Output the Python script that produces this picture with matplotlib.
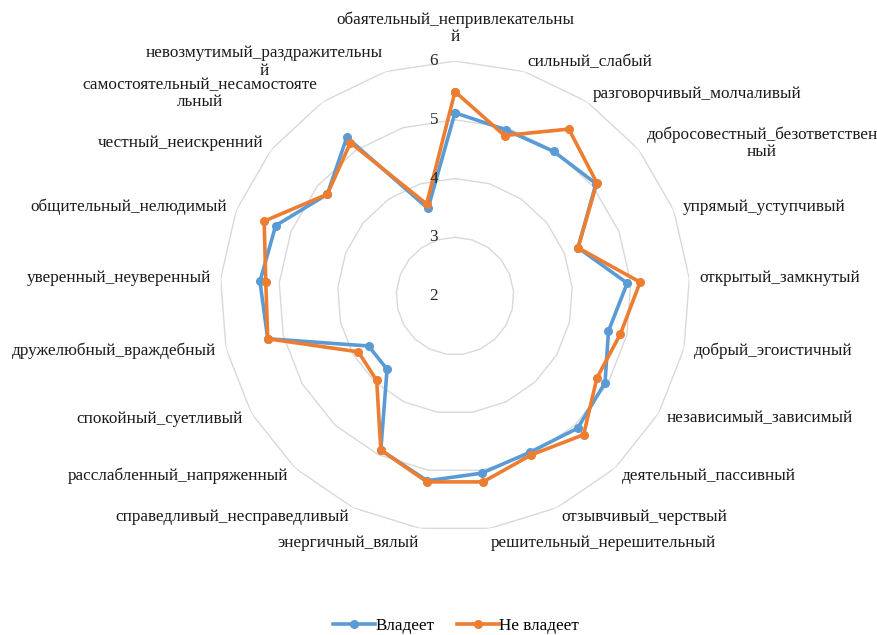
import numpy as np
import matplotlib
matplotlib.use("Agg")
import matplotlib.pyplot as plt
from matplotlib.transforms import offset_copy

categories = [
    "обаятельный_непривлекательны\nй",
    "сильный_слабый",
    "разговорчивый_молчаливый",
    "добросовестный_безответствен\nный",
    "упрямый_уступчивый",
    "открытый_замкнутый",
    "добрый_эгоистичный",
    "независимый_зависимый",
    "деятельный_пассивный",
    "отзывчивый_черствый",
    "решительный_нерешительный",
    "энергичный_вялый",
    "справедливый_несправедливый",
    "расслабленный_напряженный",
    "спокойный_суетливый",
    "дружелюбный_враждебный",
    "уверенный_неуверенный",
    "общительный_нелюдимый",
    "честный_неискренний",
    "самостоятельный_несамостояте\nльный",
    "невозмутимый_раздражительны\nй",
]
vladeet = [5.12, 4.96, 4.98, 5.07, 4.25, 4.94, 4.68, 4.95, 5.07, 4.95, 5.05,
           5.18, 4.91, 3.70, 3.70, 5.27, 5.33, 5.28, 4.78, 5.27, 3.56]
ne_vladeet = [5.48, 4.86, 5.44, 5.09, 4.25, 5.16, 4.89, 4.79, 5.22, 5.00, 5.20,
              5.20, 4.91, 3.96, 3.90, 5.27, 5.23, 5.49, 4.78, 5.16, 3.64]
series_names = ["Владеет", "Не владеет"]
ticks = [2, 3, 4, 5, 6]

BLUE = "#5B9BD5"
ORANGE = "#ED7D31"
FONT = "Liberation Serif"
FS = 12.3

fig = plt.figure(figsize=(8.77, 6.35), dpi=100)
ax = fig.add_axes([0.2508, 0.1638, 0.536, 0.740], projection="polar")
ax.set_theta_offset(np.pi / 2)
ax.set_theta_direction(-1)
ax.set_ylim(2, 6)
ax.grid(False)
ax.spines["polar"].set_visible(False)
ax.set_xticks([])
ax.set_yticks([])
ax.patch.set_alpha(0)

n = len(categories)
theta = np.arange(n) * 2 * np.pi / n
theta_c = np.append(theta, theta[0])

for t in ticks[1:]:
    ax.plot(theta_c, [t] * (n + 1), color="#D9D9D9", lw=1.0, zorder=1)

for vals, col, name in [(vladeet, BLUE, series_names[0]), (ne_vladeet, ORANGE, series_names[1])]:
    v = np.append(vals, vals[0])
    ax.plot(theta_c, v, color=col, lw=2.6, marker="o", markersize=5.5,
            label=name, zorder=3, solid_joinstyle="round")

# radial tick labels
tr = offset_copy(ax.transData, fig=fig, x=-17, y=0, units="dots")
for t in ticks:
    ax.text(0, t, str(t), transform=tr, ha="right", va="center",
            fontsize=FS, family=FONT, color="#262626", zorder=4)

# category labels
for th, lab in zip(theta, categories):
    ang = np.pi / 2 - th
    c, s = np.cos(ang), np.sin(ang)
    rlab = 6.17
    if abs(c) < 0.02:
        ha = "center"
    elif c > 0:
        ha = "left"
    else:
        ha = "right"
    if s > 0.999:
        va = "bottom"
        rlab = 6.27
    elif s < -0.98:
        va = "top"
        rlab = 6.12
    else:
        va = "center"
    ax.text(th, rlab, lab, ha=ha, va=va, multialignment="center",
            fontsize=FS, family=FONT, color="#1a1a1a", clip_on=False,
            linespacing=1.1)

fig.legend(loc="lower center", bbox_to_anchor=(0.52, -0.022), ncol=2, frameon=False,
           prop={"family": FONT, "size": FS}, handlelength=2.45, columnspacing=1.3,
           handletextpad=0.05)

fig.savefig("out.png", dpi=100)
